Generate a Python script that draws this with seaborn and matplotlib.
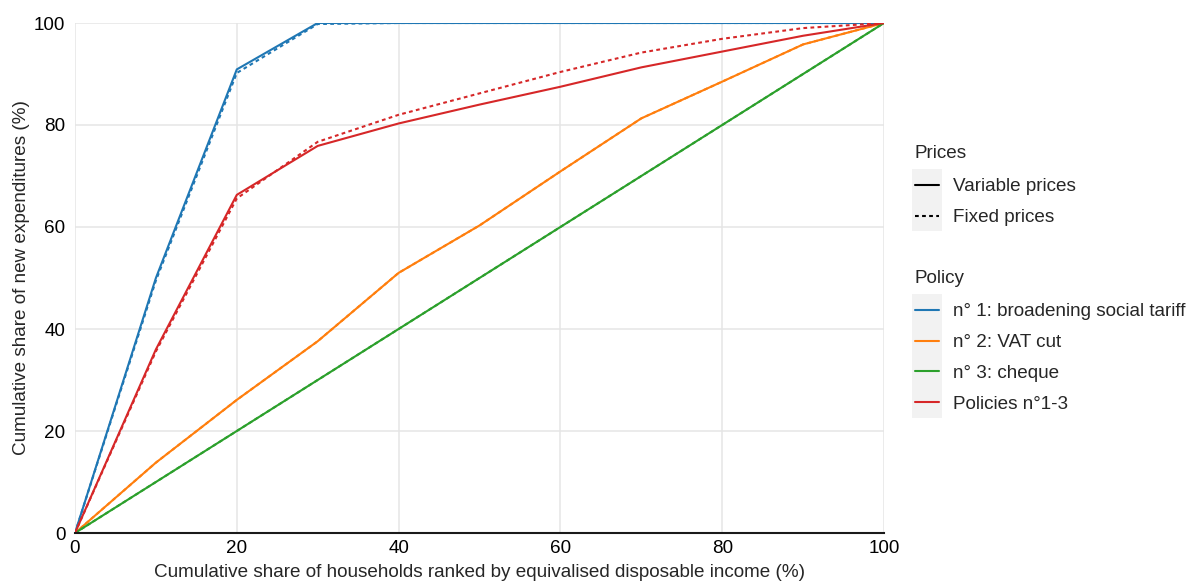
import pandas as pd
import matplotlib
matplotlib.use("Agg")
import matplotlib.pyplot as plt
import seaborn as sns
from matplotlib.lines import Line2D
from matplotlib.patches import Rectangle
from matplotlib.legend_handler import HandlerLine2D

# cumulative share of households (deciles)
deciles = [0, 10, 20, 30, 40, 50, 60, 70, 80, 90, 100]

# cumulative share of new expenditures (%)
p1_variable = [0, 50.0, 90.9, 100, 100, 100, 100, 100, 100, 100, 100]
p1_fixed = [0, 49.5, 90.2, 99.8, 100, 100, 100, 100, 100, 100, 100]
p2_variable = [0, 13.8, 26.1, 37.6, 51.0, 60.3, 70.9, 81.3, 88.5, 95.8, 100]
p2_fixed = [0, 13.8, 26.1, 37.6, 51.0, 60.3, 70.9, 81.3, 88.5, 95.8, 100]
p3_variable = [0, 10, 20, 30, 40, 50, 60, 70, 80, 90, 100]
p3_fixed = [0, 10, 20, 30, 40, 50, 60, 70, 80, 90, 100]
p123_variable = [0, 36.0, 66.3, 75.9, 80.3, 84.0, 87.5, 91.3, 94.4, 97.5, 100]
p123_fixed = [0, 35.6, 65.6, 76.7, 82.0, 86.2, 90.4, 94.2, 96.9, 99.0, 100]

policies = ["n° 1: broadening social tariff", "n° 2: VAT cut", "n° 3: cheque", "Policies n°1-3"]
prices = ["Variable prices", "Fixed prices"]
colors = ["#1f77b4", "#ff7f0e", "#2ca02c", "#d62728"]

series = {
    (policies[0], prices[0]): p1_variable,
    (policies[0], prices[1]): p1_fixed,
    (policies[1], prices[0]): p2_variable,
    (policies[1], prices[1]): p2_fixed,
    (policies[2], prices[0]): p3_variable,
    (policies[2], prices[1]): p3_fixed,
    (policies[3], prices[0]): p123_variable,
    (policies[3], prices[1]): p123_fixed,
}

rows = []
for (pol, pr), vals in series.items():
    for x, y in zip(deciles, vals):
        rows.append({"households": x, "expenditures": y, "Policy": pol, "Prices": pr})
df = pd.DataFrame(rows)

sns.set_theme(style="whitegrid")
plt.rcParams["font.family"] = ["Liberation Sans", "DejaVu Sans"]

FS = 13.6

fig = plt.figure(figsize=(11.93, 5.81), dpi=100)
ax = fig.add_axes([75 / 1193, 1 - 533 / 581, (884 - 75) / 1193, (533 - 23) / 581])

sns.lineplot(
    data=df, x="households", y="expenditures", hue="Policy", style="Prices",
    hue_order=policies, style_order=prices, palette=colors,
    dashes={"Variable prices": "", "Fixed prices": (1.8, 1.6)},
    linewidth=1.5, ax=ax, legend=False, sort=False,
)

ax.set_xlim(0, 100)
ax.set_ylim(0, 100)
ax.set_xticks([0, 20, 40, 60, 80, 100])
ax.set_yticks([0, 20, 40, 60, 80, 100])
ax.grid(True, color="#e5e5e5", linewidth=1.1)
for s in ["top", "right", "left"]:
    ax.spines[s].set_visible(False)
ax.spines["bottom"].set_color("#1a1a1a")
ax.spines["bottom"].set_linewidth(1.5)
ax.spines["bottom"].set_zorder(5)
ax.tick_params(axis="both", labelsize=FS, colors="black", length=0)
ax.tick_params(axis="y", pad=7)
ax.tick_params(axis="x", pad=5)
ax.set_xlabel("Cumulative share of households ranked by equivalised disposable income (%)",
              fontsize=FS, labelpad=5)
ax.set_ylabel("Cumulative share of new expenditures (%)", fontsize=FS, labelpad=3)


class KeyHandler(HandlerLine2D):
    def create_artists(self, legend, orig_handle, xdescent, ydescent, width, height, fontsize, trans):
        row = 31.5 * 72 / 100  # row height in points
        cy = -ydescent + height / 2
        bg = Rectangle((-xdescent - 2.2, cy - row / 2), width + 4.4, row,
                       facecolor="#f2f2f2", edgecolor="none", transform=trans)
        arts = super().create_artists(legend, orig_handle, xdescent, ydescent, width, height, fontsize, trans)
        return [bg] + arts


price_handles = [
    Line2D([], [], color="black", lw=1.5, linestyle="-"),
    Line2D([], [], color="black", lw=1.5, linestyle=(0, (1.8, 1.6))),
]
policy_handles = [Line2D([], [], color=c, lw=1.5) for c in colors]

leg_kw = dict(frameon=False, fontsize=FS, title_fontsize=FS, alignment="left",
              handlelength=1.27, handletextpad=0.75, labelspacing=0.72, borderaxespad=0)

leg1 = fig.legend(price_handles, prices, title="Prices", loc="upper left",
                  bbox_to_anchor=(907 / 1193, 1 - 137 / 581),
                  handler_map={Line2D: KeyHandler()}, **leg_kw)
leg2 = fig.legend(policy_handles, policies, title="Policy", loc="upper left",
                  bbox_to_anchor=(907 / 1193, 1 - 262 / 581),
                  handler_map={Line2D: KeyHandler()}, **leg_kw)
leg1._legend_box.sep = 12
leg2._legend_box.sep = 12

fig.savefig("out.png", dpi=100)
